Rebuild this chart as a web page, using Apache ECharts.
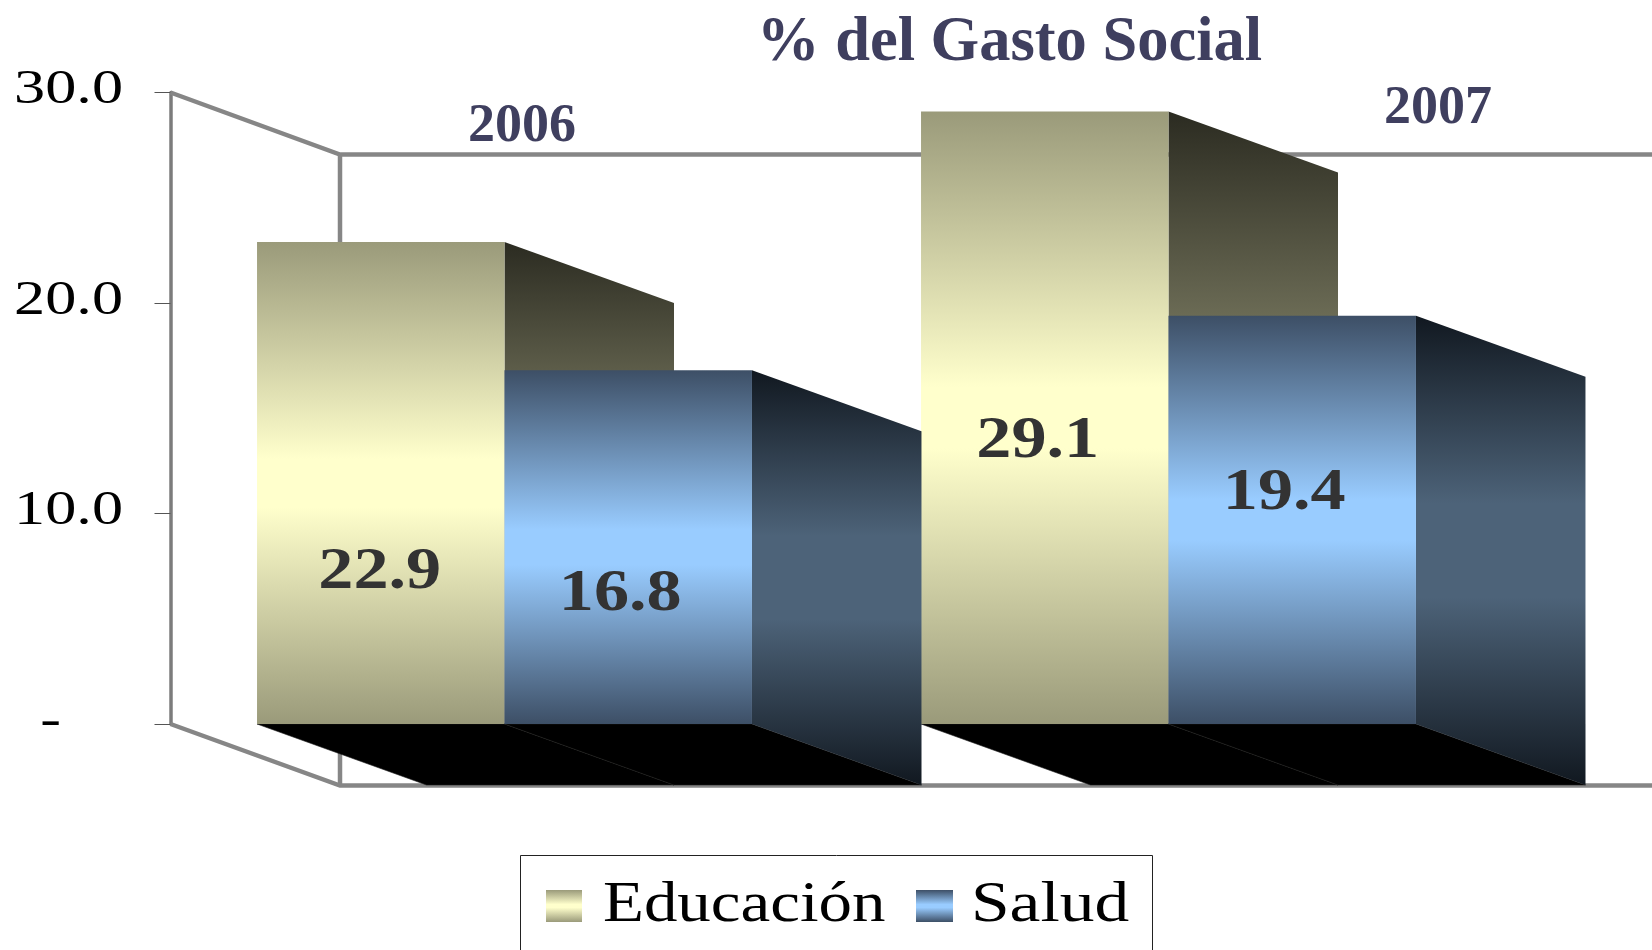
<!DOCTYPE html>
<html>
<head>
<meta charset="utf-8">
<title>% del Gasto Social</title>
<script src="https://cdn.jsdelivr.net/npm/echarts@6/dist/echarts.min.js"></script>
<style>
html,body{margin:0;padding:0;background:#fff;overflow:hidden}
#container{width:1652px;height:950px}
</style>
</head>
<body>
<div id="container"></div>
<script>
// datos
var years = ['2006', '2007'];
var educacion = [22.9, 29.1];
var salud = [16.8, 19.4];
var yTicks = [0, 10, 20, 30];
var yTickLabels = ['-', '10.0', '20.0', '30.0'];
var titleText = '% del Gasto Social';
var seriesNames = ['Educación', 'Salud'];

// where the value labels sit: height in axis units, x nudge in px (placed by hand in the original)
var educacionLabelAt = [7.18, 13.4];
var saludLabelAt = [6.12, 10.95];
var educacionLabelDx = [-1, -7];
var saludLabelDx = [-8, -8];

var serif = '"Liberation Serif", serif';
var depthX = 169.5, depthY = 61;   // 3d offset of the back wall
var barRatio = 0.3727;

function grad(edge, mid, from) {
    return new echarts.graphic.LinearGradient(0, 0, 0, 1, [
        {offset: 0, color: edge},
        {offset: from, color: mid},
        {offset: 1 - from, color: mid},
        {offset: 1, color: edge}
    ]);
}

var eduFront = ['#9a9a7a', '#ffffcc'], eduSide = ['#2b2b21', '#7f7f65'];
var salFront = ['#3d4f66', '#99ccff'], salSide = ['#111820', '#4d6379'];

function barRender(slot, labelAt, labelDx, front, side) {
    return function (params, api) {
        var idx = api.value(0);
        var val = api.value(1);
        var band = api.size([1, 0])[0];
        var w = band * barRatio;
        var c = api.coord([idx, val]);
        var b = api.coord([idx, 0]);
        var x0 = c[0] + slot * w, x1 = x0 + w;
        var top = c[1], base = b[1];
        var labelY = api.coord([idx, labelAt[params.dataIndex]])[1];
        return {
            type: 'group',
            children: [
                {
                    type: 'polygon',
                    shape: {points: [[x0, base], [x1, base], [x1 + depthX, base + depthY], [x0 + depthX, base + depthY]]},
                    style: {fill: '#000', stroke: '#1c1c1c', lineWidth: 0.6}
                },
                {
                    type: 'polygon',
                    shape: {points: [[x1, top], [x1 + depthX, top + depthY], [x1 + depthX, base + depthY], [x1, base]]},
                    style: {fill: grad(side[0], side[1], 0.4)}
                },
                {
                    type: 'rect',
                    shape: {x: x0, y: top, width: w, height: base - top},
                    style: {fill: grad(front[0], front[1], 0.45)}
                },
                {
                    type: 'text',
                    x: x0 + w / 2 + labelDx[params.dataIndex],
                    y: labelY,
                    scaleX: 1.19,
                    style: {
                        text: val.toFixed(1),
                        fontFamily: serif,
                        fontWeight: 'bold',
                        fontSize: 59,
                        fill: '#333333',
                        align: 'center',
                        verticalAlign: 'middle'
                    }
                }
            ]
        };
    };
}

// walls of the 3d box, behind the bars
function wallRender(params, api) {
    var cs = params.coordSys;
    var left = cs.x - 2, right = cs.x + cs.width + depthX + 10;
    var top = cs.y, base = cs.y + cs.height;
    var line = {stroke: '#868686', lineWidth: 4.5, fill: null};
    return {
        type: 'group',
        children: [
            {type: 'polyline', shape: {points: [[right, top + depthY + 1], [left + depthX, top + depthY + 1], [left, top]]}, style: line},
            {type: 'polyline', shape: {points: [[left, base], [left + depthX, base + depthY + 0.5], [right, base + depthY + 0.5]]}, style: line},
            {type: 'line', shape: {x1: left + depthX, y1: top + depthY + 1, x2: left + depthX, y2: base + depthY}, style: line}
        ]
    };
}

function tickRender(params, api) {
    var i = params.dataIndex;
    var y = api.coord([0, api.value(1)])[1];
    return {
        type: 'text',
        x: yTickLabels[i] === '-' ? 61 : 123,
        y: y - 2,
        scaleX: 1.27,
        style: {
            text: yTickLabels[i],
            fontFamily: serif,
            fontSize: 49,
            fill: '#000',
            align: 'right',
            verticalAlign: 'middle'
        }
    };
}

var myChart = echarts.init(document.getElementById('container'));

var option = {
    animation: false,
    backgroundColor: '#ffffff',
    title: {
        text: titleText,
        left: 757,
        top: 12,
        padding: 0,
        textStyle: {fontFamily: serif, fontWeight: 'bold', fontSize: 62.5, color: '#3f3f5f'}
    },
    grid: {left: 172.5, top: 92.5, width: 1328, height: 631.5},
    xAxis: {
        type: 'category',
        data: years,
        axisLine: {show: false},
        axisTick: {show: false},
        axisLabel: {show: false}
    },
    yAxis: {
        type: 'value',
        min: 0,
        max: 30,
        interval: 10,
        offset: 2,
        splitLine: {show: false},
        axisLabel: {show: false},
        axisLine: {show: true, lineStyle: {color: '#7c7c7c', width: 3.5}},
        axisTick: {show: true, length: 16, lineStyle: {color: '#555555', width: 1}}
    },
    series: [
        {type: 'custom', name: 'walls', data: [[0, 0]], renderItem: wallRender, encode: {x: 0, y: 1}, silent: true, z: 1},
        {
            type: 'custom',
            name: seriesNames[0],
            data: educacion.map(function (v, i) { return [i, v]; }),
            encode: {x: 0, y: 1},
            renderItem: barRender(-1, educacionLabelAt, educacionLabelDx, eduFront, eduSide),
            z: 3
        },
        {
            type: 'custom',
            name: seriesNames[1],
            data: salud.map(function (v, i) { return [i, v]; }),
            encode: {x: 0, y: 1},
            renderItem: barRender(0, saludLabelAt, saludLabelDx, salFront, salSide),
            z: 4
        },
        {
            type: 'custom',
            name: 'ticks',
            data: yTicks.map(function (v) { return [0, v]; }),
            encode: {x: 0, y: 1},
            renderItem: tickRender,
            silent: true,
            z: 5
        }
    ],
    graphic: [
        {type: 'text', x: 522, y: 127, z: 6, style: {text: years[0], fontFamily: serif, fontWeight: 'bold', fontSize: 54, fill: '#3f3f5f', align: 'center', verticalAlign: 'middle'}},
        {type: 'text', x: 1438, y: 109, z: 6, style: {text: years[1], fontFamily: serif, fontWeight: 'bold', fontSize: 54, fill: '#3f3f5f', align: 'center', verticalAlign: 'middle'}},
        // legend box runs off the bottom of the picture
        {type: 'rect', z: 6, shape: {x: 520.5, y: 855.5, width: 632, height: 130}, style: {fill: '#fff', stroke: '#222222', lineWidth: 1}},
        {type: 'rect', z: 7, shape: {x: 546, y: 890, width: 36, height: 32}, style: {fill: grad(eduFront[0], eduFront[1], 0.45)}},
        {type: 'text', z: 7, x: 603, y: 906, scaleX: 1.195, style: {text: seriesNames[0], fontFamily: serif, fontSize: 56, fill: '#000', align: 'left', verticalAlign: 'middle'}},
        {type: 'rect', z: 7, shape: {x: 916, y: 890, width: 37, height: 32}, style: {fill: grad(salFront[0], salFront[1], 0.45)}},
        {type: 'text', z: 7, x: 971, y: 906, scaleX: 1.24, style: {text: seriesNames[1], fontFamily: serif, fontSize: 56, fill: '#000', align: 'left', verticalAlign: 'middle'}}
    ]
};

myChart.setOption(option);
</script>
</body>
</html>
